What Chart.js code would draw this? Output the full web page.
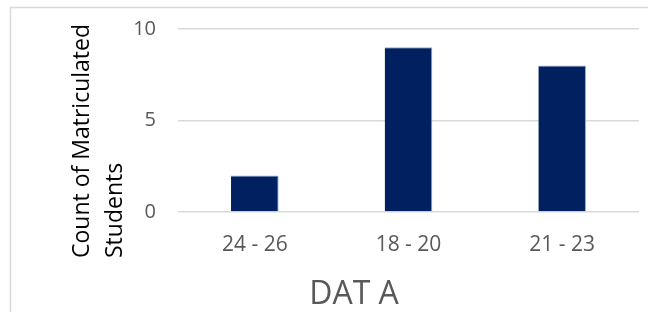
<!DOCTYPE html>
<html>
<head>
<meta charset="utf-8">
<script src="https://cdn.jsdelivr.net/npm/chart.js@4.4.1/dist/chart.umd.min.js"></script>
<style>
  html, body { margin: 0; padding: 0; background: #ffffff; }
  #wrap { width: 648px; height: 312px; position: relative; }
</style>
</head>
<body>
<div id="wrap"><canvas id="chart"></canvas></div>
<script>
// Datos
const categories = ['24 - 26', '18 - 20', '21 - 23'];
const studentCounts = [2, 9, 8];
const yTicks = [0, 5, 10];
const yTitleLines = ['Count of Matriculated', 'Students'];
const xTitle = 'DAT A';

const FONT = "'Open Sans', 'Liberation Sans', sans-serif";

// Marco gris alrededor del grafico
const framePlugin = {
    id: 'frame',
    beforeDraw(chart) {
        const ctx = chart.ctx;
        ctx.save();
        ctx.strokeStyle = '#d9d9d9';
        ctx.lineWidth = 1.5;
        ctx.strokeRect(10.5, 7.5, 700, 340);
        ctx.restore();
    }
};

// Titulo del eje Y en dos lineas, alineado como en Excel
const yTitlePlugin = {
    id: 'yTitle',
    afterDraw(chart) {
        const ctx = chart.ctx;
        ctx.save();
        ctx.translate(0, 258);
        ctx.rotate(-Math.PI / 2);
        ctx.fillStyle = '#000000';
        ctx.font = `23px ${FONT}`;
        ctx.textAlign = 'left';
        ctx.textBaseline = 'middle';
        ctx.fillText(yTitleLines[0], 0, 82);
        ctx.fillText(yTitleLines[1], 0, 115);
        ctx.restore();
    }
};

new Chart(document.getElementById('chart'), {
    type: 'bar',
    data: {
        labels: categories,
        datasets: [{
            label: 'Count of Matriculated Students',
            data: studentCounts,
            backgroundColor: '#002060',
            borderColor: '#8faadc',
            borderWidth: { top: 1, left: 0, right: 1, bottom: 0 },
            barPercentage: 0.31,
            categoryPercentage: 1.0
        }]
    },
    options: {
        responsive: true,
        maintainAspectRatio: false,
        animation: false,
        layout: { padding: { left: 69, right: 9, top: 29, bottom: 1 } },
        scales: {
            x: {
                afterFit(axis) {
                    axis.height = 67;
                    axis.paddingLeft = 0;
                    axis.paddingRight = 0;
                },
                grid: { display: false, drawTicks: false },
                border: { display: false },
                ticks: { color: '#595959', font: { family: FONT, size: 21 }, padding: 20 }
            },
            y: {
                min: 0,
                max: 10,
                afterBuildTicks(axis) {
                    axis.ticks = yTicks.map(v => ({ value: v }));
                },
                afterFit(axis) {
                    axis.width = 109;
                    axis.paddingTop = 0;
                    axis.paddingBottom = 0;
                },
                grid: { color: '#d9d9d9', lineWidth: 1.5, drawTicks: false },
                border: { display: false },
                ticks: { color: '#595959', font: { family: FONT, size: 20 }, padding: 22 }
            }
        },
        plugins: {
            legend: { display: false },
            tooltip: { enabled: false },
            title: {
                display: true,
                position: 'bottom',
                text: xTitle,
                color: '#595959',
                font: { family: FONT, size: 32, weight: 'normal', lineHeight: 1 },
                padding: { top: 0, bottom: 0 }
            }
        }
    },
    plugins: [framePlugin, yTitlePlugin]
});
</script>
</body>
</html>
